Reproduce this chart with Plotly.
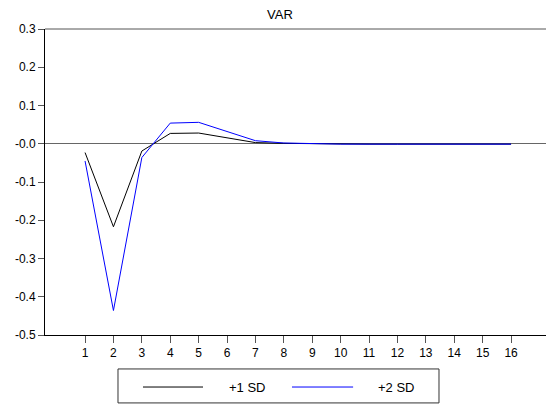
import plotly.graph_objects as go

periods = list(range(1, 17))
sd1 = [-0.023, -0.217, -0.019, 0.027, 0.028, 0.015, 0.003, 0.001, 0.0, -0.001, -0.001, -0.001, -0.001, -0.001, -0.001, -0.001]
sd2 = [-0.045, -0.436, -0.036, 0.054, 0.056, 0.031, 0.008, 0.002, 0.0, -0.001, -0.001, -0.001, -0.001, -0.001, -0.001, -0.001]
ytick_vals = [0.3, 0.2, 0.1, 0.0, -0.1, -0.2, -0.3, -0.4, -0.5]
ytick_text = ["0.3", "0.2", "0.1", "-0.0", "-0.1", "-0.2", "-0.3", "-0.4", "-0.5"]
series_names = ["+1 SD", "+2 SD"]
series_colors = ["#000000", "#0000ff"]

fig = go.Figure()
for vals, name, col in zip([sd1, sd2], series_names, series_colors):
    fig.add_trace(go.Scatter(x=periods, y=vals, mode="lines", name=name,
                             line=dict(color=col, width=1), showlegend=False))

fig.update_layout(
    width=546, height=406,
    margin=dict(l=45, r=0, t=29, b=71),
    paper_bgcolor="white", plot_bgcolor="white",
    font=dict(family="Liberation Sans, Arial, sans-serif", size=12, color="#000"),
    title=dict(text="VAR", xref="container", x=0.5128, xanchor="center",
               yref="container", y=0.9655, yanchor="middle", font=dict(size=13)),
    xaxis=dict(range=[-0.41, 17.23], tickvals=periods, ticktext=[str(p) for p in periods],
               showgrid=False, zeroline=False, showline=True, linecolor="#000", linewidth=1,
               ticks="outside", ticklen=7, tickcolor="#555", fixedrange=True),
    yaxis=dict(range=[-0.5, 0.3], tickvals=ytick_vals, ticktext=ytick_text,
               showgrid=False, zeroline=True, zerolinecolor="#666", zerolinewidth=1,
               showline=True, linecolor="#000", linewidth=1,
               ticks="outside", ticklen=6, tickcolor="#555", fixedrange=True),
)

# top frame line
fig.add_shape(type="line", xref="paper", yref="paper", x0=0, x1=1, y0=1, y1=1,
              line=dict(color="#555", width=1))

# legend box
fig.add_shape(type="rect", xref="paper", yref="paper", x0=0.1457, x1=0.7864, y0=-0.111, y1=-0.222,
              line=dict(color="#333", width=1), fillcolor="white")
leg_lines = [(0.1956, 0.3154), (0.493, 0.615)]
leg_text_x = [0.404, 0.7016]
for (x0, x1), tx, name, col in zip(leg_lines, leg_text_x, series_names, series_colors):
    fig.add_shape(type="line", xref="paper", yref="paper", x0=x0, x1=x1, y0=-0.170, y1=-0.170,
                  line=dict(color=col, width=1))
    fig.add_annotation(xref="paper", yref="paper", x=tx, y=-0.170, text=name, showarrow=False,
                       xanchor="center", yanchor="middle", font=dict(size=13))

fig.write_html("out.html", config={"displayModeBar": False},
               post_script="document.body.style.margin='0';document.body.style.overflow='hidden';")
